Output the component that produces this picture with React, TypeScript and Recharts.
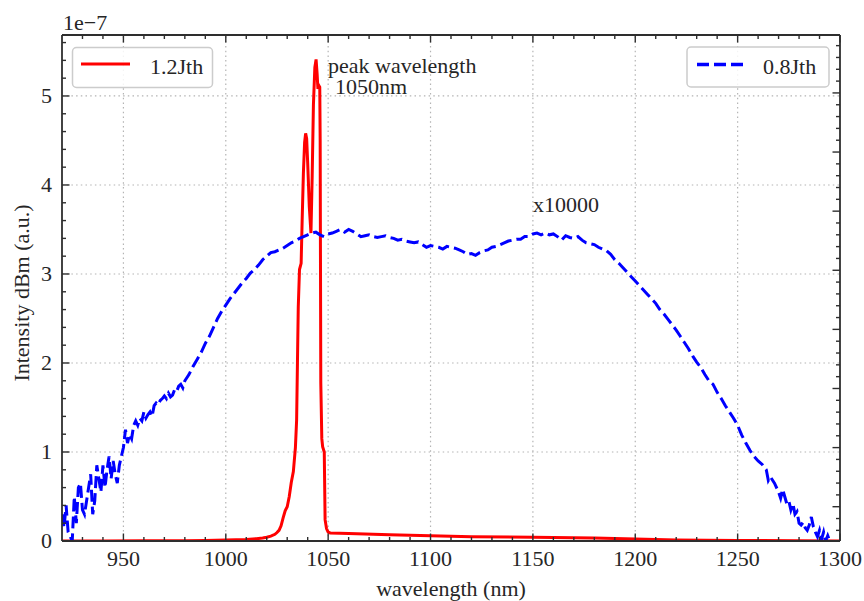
import React from 'react';
import { LineChart, Line, XAxis, YAxis, ReferenceLine } from 'recharts';

// ---------------- data (intensity in units of 1e-7) ----------------
const xMajorTicks = [950, 1000, 1050, 1100, 1150, 1200, 1250, 1300];
const xTickLabels = ['950', '1000', '1050', '1100', '1150', '1200', '1250', '1300'];
const yMajorTicks = [0, 1, 2, 3, 4, 5];
const yTickLabels = ['0', '1', '2', '3', '4', '5'];
const rightMajorTicks = [0, 1, 2, 3, 4, 5, 6, 7];

// 1.2 Jth (solid red)
const red12Jth: [number, number][] = [
  [920, 0], [940, 0.001], [960, 0.002], [980, 0.004], [990, 0.006], [1000, 0.01],
  [1005, 0.013], [1010, 0.018], [1015, 0.026], [1018, 0.034], [1020, 0.042],
  [1022, 0.055], [1024, 0.075], [1025, 0.095], [1026, 0.12], [1027, 0.17],
  [1028, 0.26], [1029, 0.34], [1030, 0.385], [1031, 0.5], [1032, 0.66],
  [1033, 0.78], [1034, 1.05], [1034.6, 1.36], [1035, 2.0], [1035.4, 2.63],
  [1036, 3.05], [1036.8, 3.12], [1037.3, 3.6], [1037.9, 4.13], [1038.5, 4.48],
  [1039, 4.58], [1039.5, 4.52], [1040, 4.25], [1040.8, 3.75], [1041.6, 3.46],
  [1042.2, 4.1], [1042.8, 4.9], [1043.5, 5.32], [1044.1, 5.41], [1044.6, 5.25],
  [1045, 5.08], [1045.4, 5.12], [1045.9, 5.1], [1046.1, 4.5], [1046.4, 1.78],
  [1046.9, 1.15], [1047.3, 1.06], [1048.1, 1.0], [1048.5, 0.24], [1049.2, 0.14],
  [1050, 0.1], [1051, 0.09], [1060, 0.085], [1080, 0.07], [1100, 0.058],
  [1120, 0.048], [1150, 0.042], [1180, 0.035], [1200, 0.022], [1220, 0.012],
  [1250, 0.006], [1280, 0.002], [1300, 0.0],
];

// 0.8 Jth (dashed blue, x10000)
const blueNoisyEdge: [number, number][] = [
  [920, 0.3], [921, 0.15], [922, 0.4], [923, 0.1], [924, 0.05], [925, 0.0],
  [926, 0.5], [927, 0.2], [928, 0.6], [929, 0.65], [930, 0.35], [931, 0.3],
  [932, 0.45], [933, 0.6], [934, 0.75], [935, 0.3], [936, 0.45], [937, 0.85],
  [938, 0.7], [939, 0.55], [940, 0.85], [941, 0.6], [942, 0.8], [943, 0.95],
  [944, 0.7], [945, 0.9], [946, 0.75], [947, 0.65], [948, 0.85], [949, 0.95],
  [950, 1.05], [951, 1.25], [952, 1.1], [953, 1.2], [954, 1.15], [955, 1.3],
  [956, 1.35], [957, 1.3], [958, 1.38], [959, 1.35], [960, 1.45], [961, 1.38],
  [962, 1.42], [963, 1.45], [964, 1.4], [965, 1.52], [966, 1.55], [967, 1.53],
  [968, 1.58], [969, 1.6], [970, 1.63], [971, 1.6], [972, 1.66], [973, 1.62],
  [974, 1.64], [975, 1.7], [976, 1.68], [977, 1.74], [978, 1.76], [979, 1.72],
  [980, 1.8],
];
const blueRise: [number, number][] = [
  [982, 1.87], [984, 1.96], [986, 2.04], [988, 2.12], [990, 2.22], [992, 2.3],
  [994, 2.4], [996, 2.5], [998, 2.58], [1000, 2.65], [1002, 2.72], [1004, 2.78],
  [1006, 2.84], [1008, 2.9], [1010, 2.95], [1012, 3.01], [1014, 3.05],
  [1016, 3.1], [1018, 3.16], [1020, 3.2], [1022, 3.24], [1024, 3.25],
  [1026, 3.27], [1028, 3.29], [1030, 3.32], [1032, 3.35], [1034, 3.37],
  [1036, 3.4], [1038, 3.42], [1040, 3.44], [1042, 3.46], [1044, 3.47],
];
const bluePlateau: [number, number][] = [
  [1046, 3.44], [1048, 3.42], [1050, 3.45], [1052, 3.46], [1054, 3.48],
  [1056, 3.5], [1058, 3.47], [1060, 3.5], [1062, 3.48], [1064, 3.45],
  [1066, 3.42], [1068, 3.43], [1070, 3.44], [1072, 3.42], [1074, 3.41],
  [1076, 3.42], [1078, 3.43], [1080, 3.41], [1082, 3.4], [1084, 3.38],
  [1086, 3.39], [1088, 3.37], [1090, 3.36], [1092, 3.35], [1094, 3.36],
  [1096, 3.33], [1098, 3.3], [1100, 3.32], [1102, 3.31], [1104, 3.3],
  [1106, 3.28], [1108, 3.31], [1110, 3.3], [1112, 3.29], [1114, 3.27],
  [1116, 3.25], [1118, 3.22], [1120, 3.23], [1122, 3.21], [1124, 3.24],
  [1126, 3.26], [1128, 3.27], [1130, 3.3], [1132, 3.31], [1134, 3.33],
  [1136, 3.35], [1138, 3.37], [1140, 3.38], [1142, 3.39], [1144, 3.39],
  [1146, 3.42], [1148, 3.42], [1150, 3.45], [1152, 3.46], [1154, 3.44],
  [1156, 3.46], [1158, 3.44], [1160, 3.45], [1162, 3.42], [1164, 3.38],
  [1166, 3.43], [1168, 3.41], [1170, 3.4], [1172, 3.42], [1174, 3.38],
  [1176, 3.35], [1178, 3.34], [1180, 3.33], [1182, 3.3], [1184, 3.28],
  [1186, 3.26], [1188, 3.22],
];
const blueFall: [number, number][] = [
  [1190, 3.16], [1192, 3.12], [1194, 3.07], [1196, 3.02], [1198, 2.97],
  [1200, 2.92], [1202, 2.87], [1204, 2.82], [1206, 2.77], [1208, 2.72],
  [1210, 2.67], [1212, 2.6], [1214, 2.55], [1216, 2.49], [1218, 2.43],
  [1220, 2.37], [1222, 2.3], [1224, 2.23], [1226, 2.16], [1228, 2.08],
  [1230, 2.01], [1232, 1.95], [1234, 1.87], [1236, 1.8], [1238, 1.76],
  [1240, 1.67], [1242, 1.6], [1244, 1.52], [1246, 1.45], [1248, 1.38],
  [1250, 1.3], [1252, 1.19], [1254, 1.1], [1256, 1.02], [1258, 0.95],
  [1260, 0.9], [1262, 0.86], [1264, 0.8],
];
const blueNoisyTail: [number, number][] = [
  [1265, 0.68], [1266, 0.72], [1268, 0.65], [1270, 0.55], [1271, 0.48],
  [1272, 0.58], [1273, 0.5], [1274, 0.42], [1275, 0.45], [1276, 0.35],
  [1277, 0.42], [1278, 0.3], [1279, 0.33], [1280, 0.2], [1281, 0.18],
  [1282, 0.21], [1283, 0.15], [1284, 0.12], [1285, 0.18], [1286, 0.27],
  [1287, 0.16], [1288, 0.1], [1289, 0.05], [1290, 0.12], [1291, 0.02],
  [1292, 0.1], [1293, 0.0], [1294, 0.06], [1295, 0.0],
];

// ---------------- helpers ----------------
const FONT = '"Liberation Serif", "Times New Roman", serif';
const TEXT_COLOR = '#262626';
const AXIS_COLOR = '#2e2e2e';
const GRID_COLOR = '#b4b4b4';
const FS = 22;

const range = (start: number, stop: number, step: number) => {
  const n = Math.round((stop - start) / step) + 1;
  return Array.from({ length: n }, (_, i) => Math.round((start + i * step) * 1e6) / 1e6);
};
const xAllTicks = range(930, 1300, 10);
const yLeftTicks = range(0, 5.6, 0.2);
const yRightTicks = range(-0.4, 7.8, 0.2);

const toPoints = (pairs: [number, number][]) => pairs.map(([x, y]) => ({ x, y }));
const redData = toPoints(red12Jth);
const blueData = toPoints([
  ...blueNoisyEdge, ...blueRise, ...bluePlateau, ...blueFall, ...blueNoisyTail,
]);

function AxisTick(props: any) {
  const { x, y, payload, side, majors, labels } = props;
  const v = payload.value;
  const idx = majors.findIndex((m: number) => Math.abs(m - v) < 1e-6);
  const major = idx >= 0;
  const len = major ? 7.5 : 4;
  let line: React.ReactNode = null;
  let label: React.ReactNode = null;
  const common = { stroke: AXIS_COLOR, strokeWidth: 1.4 };
  if (side === 'bottom') {
    line = <line x1={x} y1={y} x2={x} y2={y - len} {...common} />;
    if (major && labels)
      label = (
        <text x={x} y={y + 25} textAnchor="middle" fontSize={FS} fontFamily={FONT} fill={TEXT_COLOR}>
          {labels[idx]}
        </text>
      );
  } else if (side === 'top') {
    line = <line x1={x} y1={y} x2={x} y2={y + len} {...common} />;
  } else if (side === 'left') {
    line = <line x1={x} y1={y} x2={x + len} y2={y} {...common} />;
    if (major && labels)
      label = (
        <text x={x - 10} y={y + 7} textAnchor="end" fontSize={FS} fontFamily={FONT} fill={TEXT_COLOR}>
          {labels[idx]}
        </text>
      );
  } else {
    line = <line x1={x} y1={y} x2={x - len} y2={y} {...common} />;
  }
  return (
    <g>
      {line}
      {label}
    </g>
  );
}

const axisLineStyle = { stroke: AXIS_COLOR, strokeWidth: 1.8 };

export default function App() {
  return (
    <div style={{ position: 'absolute', left: 0, top: 0, width: 864, height: 601, background: '#fff' }}>
      <LineChart width={864} height={601} margin={{ top: 0, right: 0, bottom: 0, left: 0 }}>
        <XAxis
          xAxisId="b"
          dataKey="x"
          type="number"
          orientation="bottom"
          domain={[920, 1300]}
          allowDataOverflow
          ticks={xAllTicks}
          interval={0}
          height={60}
          tickSize={0}
          tickMargin={0}
          tickLine={false}
          axisLine={axisLineStyle}
          tick={<AxisTick side="bottom" majors={xMajorTicks} labels={xTickLabels} />}
        />
        <XAxis
          xAxisId="t"
          dataKey="x"
          type="number"
          orientation="top"
          domain={[920, 1300]}
          allowDataOverflow
          ticks={xAllTicks}
          interval={0}
          height={35}
          tickSize={0}
          tickMargin={0}
          tickLine={false}
          axisLine={axisLineStyle}
          tick={<AxisTick side="top" majors={xMajorTicks} />}
        />
        <YAxis
          yAxisId="l"
          type="number"
          orientation="left"
          domain={[0, 5.685]}
          allowDataOverflow
          ticks={yLeftTicks}
          interval={0}
          width={62}
          tickSize={0}
          tickMargin={0}
          tickLine={false}
          axisLine={axisLineStyle}
          tick={<AxisTick side="left" majors={yMajorTicks} labels={yTickLabels} />}
        />
        <YAxis
          yAxisId="r"
          type="number"
          orientation="right"
          domain={[-0.58, 7.98]}
          allowDataOverflow
          ticks={yRightTicks}
          interval={0}
          width={24}
          tickSize={0}
          tickMargin={0}
          tickLine={false}
          axisLine={axisLineStyle}
          tick={<AxisTick side="right" majors={rightMajorTicks} />}
        />
        {xMajorTicks.slice(0, -1).map((v) => (
          <ReferenceLine
            key={'gx' + v}
            xAxisId="b"
            yAxisId="l"
            x={v}
            stroke={GRID_COLOR}
            strokeWidth={1.2}
            strokeDasharray="1.5 3.2"
          />
        ))}
        {yMajorTicks.slice(1).map((v) => (
          <ReferenceLine
            key={'gy' + v}
            xAxisId="b"
            yAxisId="l"
            y={v}
            stroke={GRID_COLOR}
            strokeWidth={1.2}
            strokeDasharray="1.5 3.2"
          />
        ))}
        <Line
          xAxisId="b"
          yAxisId="l"
          data={redData}
          dataKey="y"
          type="linear"
          stroke="#ff0000"
          strokeWidth={3}
          dot={false}
          isAnimationActive={false}
        />
        <Line
          xAxisId="b"
          yAxisId="l"
          data={blueData}
          dataKey="y"
          type="linear"
          stroke="#0000ff"
          strokeWidth={3}
          strokeDasharray="12 5"
          dot={false}
          isAnimationActive={false}
        />
      </LineChart>
      <svg
        width={864}
        height={601}
        style={{ position: 'absolute', left: 0, top: 0, pointerEvents: 'none' }}
        fontFamily={FONT}
        fill={TEXT_COLOR}
      >
        <text x={63} y={29.5} fontSize={FS}>1e−7</text>
        <text x={451} y={596} fontSize={FS} textAnchor="middle">wavelength (nm)</text>
        <text transform="translate(29,293) rotate(-90)" fontSize={FS} textAnchor="middle">
          Intensity dBm (a.u.)
        </text>
        <text x={328} y={73} fontSize={FS}>peak wavelength</text>
        <text x={335} y={94} fontSize={FS}>1050nm</text>
        <text x={533} y={212} fontSize={FS}>x10000</text>

        <rect x={72.5} y={47.5} width={140} height={40} rx={4} fill="#ffffff" fillOpacity={0.85} stroke="#cccccc" strokeWidth={1.5} />
        <line x1={81} y1={64} x2={130} y2={64} stroke="#ff0000" strokeWidth={3} />
        <text x={150} y={74} fontSize={FS}>1.2Jth</text>

        <rect x={687} y={47} width={142} height={40} rx={4} fill="#ffffff" fillOpacity={0.85} stroke="#cccccc" strokeWidth={1.5} />
        <line x1={697} y1={64.5} x2={745} y2={64.5} stroke="#0000ff" strokeWidth={3.5} strokeDasharray="12 5" />
        <text x={763} y={74} fontSize={FS}>0.8Jth</text>
      </svg>
    </div>
  );
}
